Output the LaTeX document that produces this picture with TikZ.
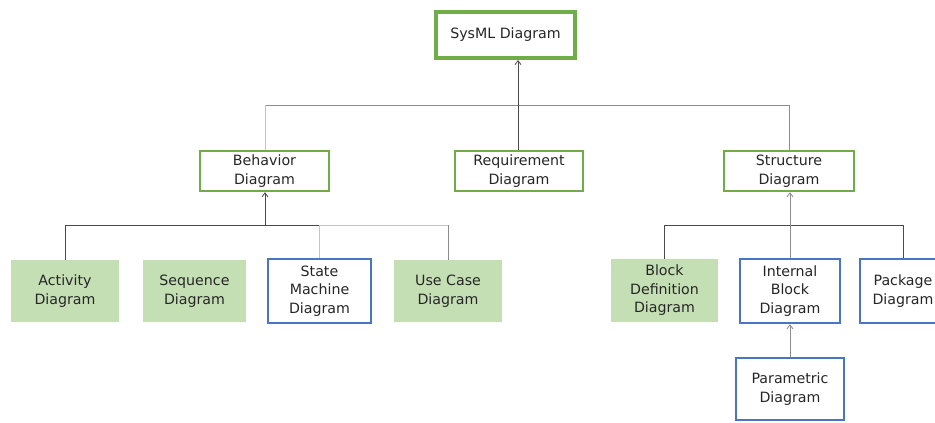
\documentclass[tikz,border=0pt]{standalone}
\usepackage{fontspec}
\setmainfont{DejaVu Sans}
\usetikzlibrary{arrows.meta}
\definecolor{grnline}{HTML}{6FAD47}
\definecolor{grnfill}{HTML}{C5DFB4}
\definecolor{blueline}{HTML}{4A75C4}
\definecolor{txt}{HTML}{262626}
\definecolor{darkwire}{HTML}{4A4A4A}
\definecolor{midwire}{HTML}{8C8C8C}
\definecolor{lightwire}{HTML}{C4C4C4}
\tikzset{
  box/.style={rectangle, align=center, text=txt, inner sep=0pt,
    font=\fontsize{14.2}{18.5}\selectfont},
  rootbox/.style={box, draw=grnline, line width=4pt, fill=white},
  groupbox/.style={box, draw=grnline, line width=2.4pt, fill=white},
  leafgreen/.style={box, fill=grnfill},
  leafblue/.style={box, draw=blueline, line width=2.4pt, fill=white},
  wire/.style={line width=0.9pt, draw=darkwire},
  wiremid/.style={line width=0.9pt, draw=midwire},
  wirelight/.style={line width=0.9pt, draw=lightwire},
  tip/.style={-{Straight Barb[length=4pt,width=6pt,line width=0.8pt]}}
}
\begin{document}
\begin{tikzpicture}[x=1pt,y=-1pt]
\useasboundingbox (0,0) rectangle (935,423);
\clip (0,0) rectangle (935,423);

% top level
\node[rootbox, minimum width=139pt, minimum height=46pt] (sysml) at (505.5,35) {SysML Diagram};

% second level
\node[groupbox, minimum width=129pt, minimum height=40pt] (beh) at (264.5,171) {Behavior\\Diagram};
\node[groupbox, minimum width=128pt, minimum height=40pt] (req) at (519,171) {Requirement\\Diagram};
\node[groupbox, minimum width=130pt, minimum height=40pt] (str) at (789,171) {Structure\\Diagram};

% behaviour diagrams
\node[leafgreen, minimum width=108pt, minimum height=62pt] (act) at (65,291) {Activity\\Diagram};
\node[leafgreen, minimum width=103pt, minimum height=62pt] (seq) at (194.5,291) {Sequence\\Diagram};
\node[leafblue, minimum width=103pt, minimum height=64pt] (stm) at (319.5,291) {State\\Machine\\Diagram};
\node[leafgreen, minimum width=108pt, minimum height=62pt] (uc) at (448,291) {Use Case\\Diagram};

% structure diagrams
\node[leafgreen, minimum width=107pt, minimum height=63pt] (bdd) at (664.5,290.5) {Block\\Definition\\Diagram};
\node[leafblue, minimum width=100pt, minimum height=64pt] (ibd) at (790,291) {Internal\\Block\\Diagram};
\node[leafblue, minimum width=86pt, minimum height=64pt] (pkg) at (903,291) {Package\\Diagram};
\node[leafblue, minimum width=108pt, minimum height=62pt] (par) at (790,389) {Parametric\\Diagram};

% junction points of the buses
\coordinate (topbus) at (518,105);
\coordinate (behbus) at (265,225);
\coordinate (strbus) at (789,225);

% generalisation to SysML Diagram
\draw[wiremid] (beh.north -| behbus) |- (topbus);
\draw[wirelight] (beh.north -| behbus) -- (behbus |- topbus);
\draw[wiremid] (topbus) -| (str.north);
\draw[wire] (req.north -| topbus) -- (topbus);
\draw[wire, tip] (topbus) -- (sysml.south -| topbus);

% generalisation to Behavior Diagram
\draw[wire] (act.north) |- (stm.north |- behbus);
\draw[wirelight] (stm.north) |- (uc.north |- behbus);
\draw[wiremid] (uc.north) -- (uc.north |- behbus);
\draw[wire, tip] (behbus) -- (beh.south -| behbus);

% generalisation to Structure Diagram
\draw[wire] (bdd.north) |- (pkg.north |- strbus) -- (pkg.north);
\draw[wiremid, tip] (ibd.north) -- (str.south -| ibd.north);

% Parametric specialises Internal Block
\draw[wiremid, tip] (par.north) -- (ibd.south);
\end{tikzpicture}
\end{document}
